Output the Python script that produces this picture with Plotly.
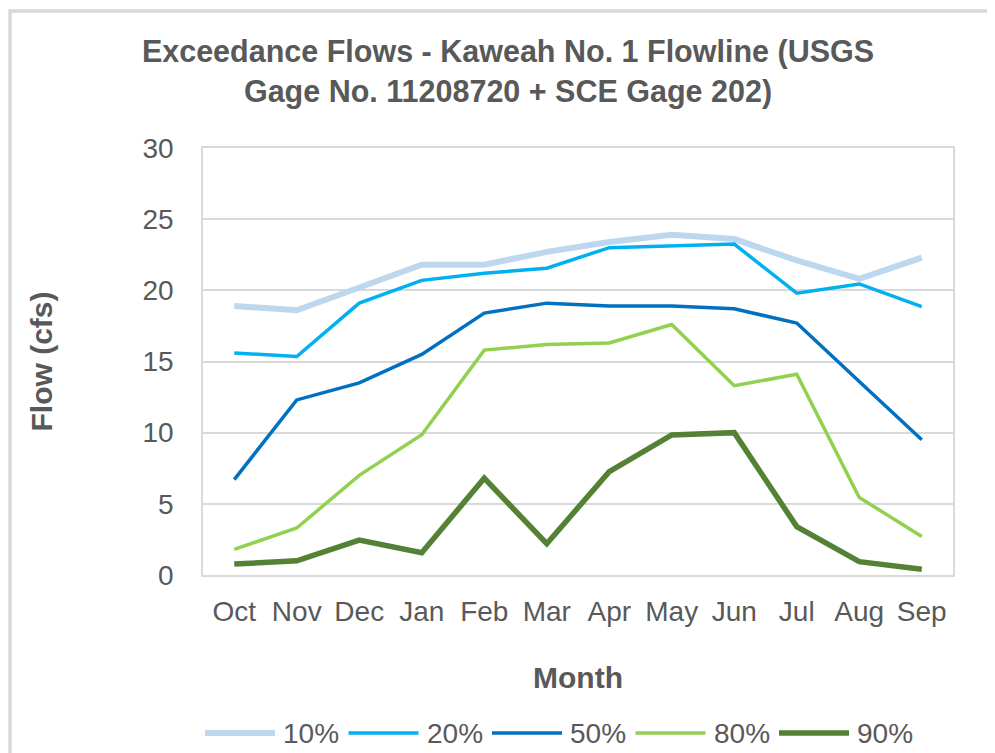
import plotly.graph_objects as go

months = ["Oct", "Nov", "Dec", "Jan", "Feb", "Mar", "Apr", "May", "Jun", "Jul", "Aug", "Sep"]
p10 = [18.9, 18.6, 20.2, 21.8, 21.8, 22.7, 23.4, 23.9, 23.6, 22.1, 20.8, 22.3]
p20 = [15.6, 15.35, 19.1, 20.7, 21.2, 21.55, 23.0, 23.1, 23.25, 19.8, 20.45, 18.85]
p50 = [6.7, 12.3, 13.5, 15.5, 18.4, 19.1, 18.9, 18.9, 18.7, 17.7, 13.6, 9.5]
p80 = [1.8, 3.3, 7.0, 9.85, 15.8, 16.2, 16.3, 17.6, 13.3, 14.1, 5.45, 2.7]
p90 = [0.77, 1.0, 2.45, 1.57, 6.8, 2.2, 7.26, 9.84, 10.0, 3.4, 0.94, 0.4]

series_names = ["10%", "20%", "50%", "80%", "90%"]
series_values = [p10, p20, p50, p80, p90]
colors = ["#BDD7EE", "#00B0F0", "#0070C0", "#92D050", "#548235"]
widths = [6, 3.5, 3.5, 3.5, 5.5]

# page body has an 8px margin; figure coords = screen coords - 8
W, H = 987, 745
ML, MR, MT, MB = 195, 42, 140, 178
PW, PH = W - ML - MR, H - MT - MB

def px2paper_x(px):
    return (px - ML) / PW

def px2paper_y(py):
    return (H - MB - py) / PH

TXT = "#595959"
FONT = "Liberation Sans, Arial, sans-serif"

fig = go.Figure()
for name, vals, c, w in zip(series_names, series_values, colors, widths):
    fig.add_trace(go.Scatter(x=months, y=vals, mode="lines", name=name,
                             line=dict(color=c, width=w), showlegend=False))

shapes = []
annotations = []
# outer chart border (only left and top visible in the crop)
shapes.append(dict(type="rect", xref="paper", yref="paper",
                   x0=px2paper_x(2), x1=px2paper_x(1100),
                   y0=px2paper_y(900), y1=px2paper_y(3),
                   line=dict(color="#D9D9D9", width=3.5), layer="below"))

# custom legend
leg_y = 725
start = 197
step = 143.5
for i, (name, c, w) in enumerate(zip(series_names, colors, widths)):
    x0 = start + i * step
    shapes.append(dict(type="line", xref="paper", yref="paper",
                       x0=px2paper_x(x0), x1=px2paper_x(x0 + 70),
                       y0=px2paper_y(leg_y), y1=px2paper_y(leg_y),
                       line=dict(color=c, width=w)))
    annotations.append(dict(text=name, xref="paper", yref="paper",
                            x=px2paper_x(x0 + 76), y=px2paper_y(leg_y),
                            xanchor="left", yanchor="middle", showarrow=False,
                            font=dict(size=28, color=TXT, family=FONT)))

fig.update_layout(
    width=W, height=H,
    margin=dict(l=ML, r=MR, t=MT, b=MB),
    paper_bgcolor="white", plot_bgcolor="white",
    font=dict(family=FONT, color=TXT, size=28),
    title=dict(text="<b>Exceedance Flows - Kaweah No. 1 Flowline (USGS<br>Gage No. 11208720 + SCE Gage 202)</b>",
               x=500 / W, xanchor="center", y=1 - 54 / H, yanchor="top", yref="container",
               font=dict(size=30.5, color=TXT, family=FONT)),
    xaxis=dict(title=dict(text="<b>Month</b>", font=dict(size=30, color=TXT), standoff=41),
               range=[-0.5, 11.5],
               showgrid=False, showline=True, linecolor="#D9D9D9", linewidth=1.5, mirror=True,
               ticks="", tickfont=dict(size=28, color=TXT), ticklabelstandoff=11),
    yaxis=dict(title=dict(text="<b>Flow (cfs)</b>", font=dict(size=30, color=TXT), standoff=81),
               range=[0, 30], dtick=5, tick0=0,
               showgrid=True, gridcolor="#D9D9D9", gridwidth=1.5,
               showline=True, linecolor="#D9D9D9", linewidth=1.5, mirror=True,
               zeroline=False, ticks="", tickfont=dict(size=28, color=TXT), ticklabelstandoff=22),
    shapes=shapes, annotations=annotations,
)

fig.write_html("out.html")
